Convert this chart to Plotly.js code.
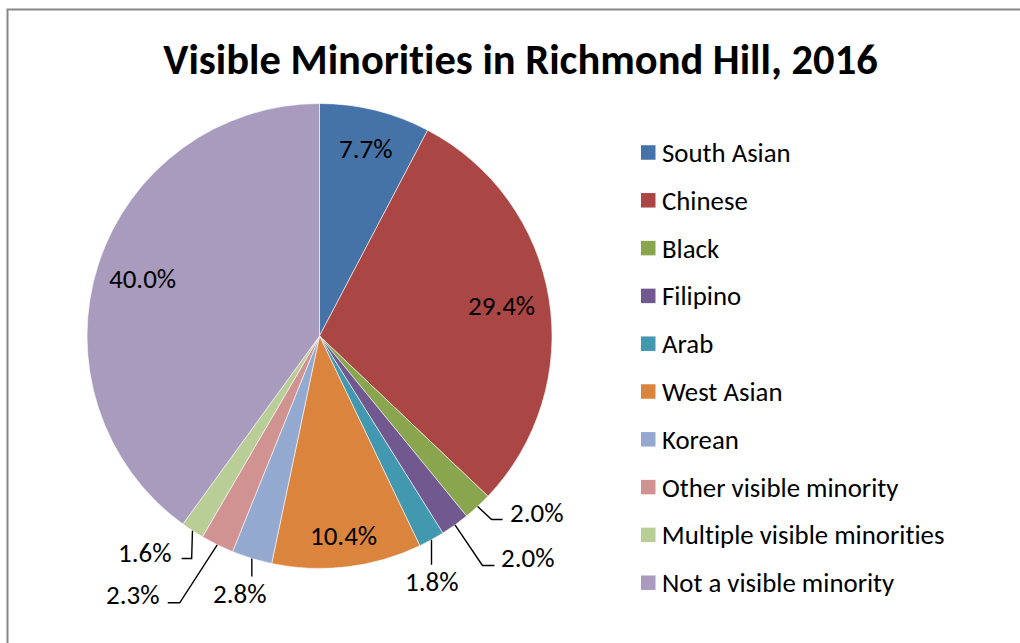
<!DOCTYPE html>
<html>
<head>
<meta charset="utf-8">
<script src="https://cdn.plot.ly/plotly-3.0.1.min.js"></script>
<style>
html,body{margin:0;padding:0;background:#fff;}
#chart{width:1020px;height:643px;}
</style>
</head>
<body>
<div id="chart"></div>
<script>
// ---- data ----
const categories = ['South Asian','Chinese','Black','Filipino','Arab','West Asian','Korean','Other visible minority','Multiple visible minorities','Not a visible minority'];
const shares = [7.7, 29.4, 2.0, 2.0, 1.8, 10.4, 2.8, 2.3, 1.6, 40.0];
const colors = ['#4572A7','#AA4643','#89A54E','#71588F','#4198AF','#DB843D','#93A9CF','#D19392','#B9CD96','#A99BBD'];
const chartTitle = 'Visible Minorities in Richmond Hill, 2016';

// ---- layout / style (pixels) ----
const W = 1020, H = 643;
const pieBox = {x0: 87, x1: 552, y0: 103.5, y1: 568.5};
const FONT = 'Carlito, Lato, "Open Sans", sans-serif';
const LABEL_SIZE = 27, LEGEND_SIZE = 26.8, TITLE_SIZE = 42.5;
// per-slice label style: inside radius factor, or leader geometry (offsets from slice edge point; text offset from leader end)
const labelStyle = [
  {inside: 0.83},
  {inside: 0.795},
  {leader: [[14,13],[25,13]], anchor: 'left', text: [5,-7]},
  {leader: [[27.5,40.5],[39.5,40.5]], anchor: 'left', text: [5,-8]},
  {leader: [[0,25]], anchor: 'center', text: [0,17]},
  {inside: 0.865},
  {leader: [[0,18]], anchor: 'center', text: [-11.5,17]},
  {leader: [[-37.5,58],[-49.5,58]], anchor: 'right', text: [-6,-8]},
  {leader: [[-0.8,27.7],[-10.8,27.7]], anchor: 'right', text: [-8,-6]},
  {inside: 0.80}
];

const X = px => px / W;
const Y = py => 1 - py / H;

const cx = (pieBox.x0 + pieBox.x1) / 2;
const cy = (pieBox.y0 + pieBox.y1) / 2;
const r = Math.min(pieBox.x1 - pieBox.x0, pieBox.y1 - pieBox.y0) / 2;

const total = shares.reduce((a, b) => a + b, 0);
const annotations = [];
const shapes = [];

// chart border (top and left edges visible)
shapes.push({type: 'path', xref: 'paper', yref: 'paper',
  path: `M ${X(7.5)} ${Y(H + 5)} L ${X(7.5)} ${Y(9.5)} L ${X(W + 5)} ${Y(9.5)}`,
  line: {color: '#878787', width: 2}});

let cum = 0;
shares.forEach((v, i) => {
  const mid = (cum + v / 2) / total * 2 * Math.PI;
  cum += v;
  const s = labelStyle[i];
  const txt = v.toFixed(1) + '%';
  if (s.inside) {
    const lx = cx + r * s.inside * Math.sin(mid);
    const ly = cy - r * s.inside * Math.cos(mid);
    annotations.push({x: X(lx), y: Y(ly), xref: 'paper', yref: 'paper', text: txt, showarrow: false,
      xanchor: 'center', yanchor: 'middle', font: {family: FONT, size: LABEL_SIZE, color: '#000'}});
  } else {
    const ex = cx + r * Math.sin(mid);
    const ey = cy - r * Math.cos(mid);
    let path = `M ${X(ex)} ${Y(ey)}`;
    let last = [ex, ey];
    s.leader.forEach(p => { last = [ex + p[0], ey + p[1]]; path += ` L ${X(last[0])} ${Y(last[1])}`; });
    shapes.push({type: 'path', xref: 'paper', yref: 'paper', path: path, line: {color: '#000', width: 1.4}});
    annotations.push({x: X(last[0] + s.text[0]), y: Y(last[1] + s.text[1]), xref: 'paper', yref: 'paper',
      text: txt, showarrow: false, xanchor: s.anchor, yanchor: 'middle',
      font: {family: FONT, size: LABEL_SIZE, color: '#000'}});
  }
});

// custom legend
const legX = 641, legY0 = 152.5, legStep = 47.8, sq = 14.5;
categories.forEach((c, i) => {
  const yc = legY0 + legStep * i;
  shapes.push({type: 'rect', xref: 'paper', yref: 'paper',
    x0: X(legX), x1: X(legX + sq), y0: Y(yc - sq / 2), y1: Y(yc + sq / 2),
    fillcolor: colors[i], line: {width: 0}});
  annotations.push({x: X(legX + 19), y: Y(yc), xref: 'paper', yref: 'paper', text: c, showarrow: false,
    xanchor: 'left', yanchor: 'middle', font: {family: FONT, size: LEGEND_SIZE, color: '#000'}});
});

const trace = {
  type: 'pie',
  labels: categories,
  values: shares,
  sort: false,
  direction: 'clockwise',
  rotation: 0,
  textinfo: 'none',
  marker: {colors: colors, line: {color: 'rgba(255,255,255,0.7)', width: 0.8}},
  domain: {x: [X(pieBox.x0), X(pieBox.x1)], y: [Y(pieBox.y1), Y(pieBox.y0)]},
  showlegend: false,
  hoverinfo: 'label+percent'
};

const layout = {
  width: W, height: H,
  margin: {l: 0, r: 0, t: 0, b: 0},
  paper_bgcolor: '#fff',
  showlegend: false,
  title: {text: '<b>' + chartTitle + '</b>', x: X(520.5), xanchor: 'center', xref: 'paper',
    y: Y(59), yanchor: 'middle', yref: 'paper', font: {family: FONT, size: TITLE_SIZE, color: '#000'}},
  annotations: annotations,
  shapes: shapes
};

Plotly.newPlot('chart', [trace], layout, {displayModeBar: false, staticPlot: true}).then(gd => {
  gd.querySelectorAll('text, tspan').forEach(t => {
    t.style.setProperty('font-variant-ligatures', 'none', 'important');
    t.style.setProperty('font-feature-settings', '"liga" 0, "clig" 0', 'important');
    t.setAttribute('font-variant-ligatures', 'none');
  });
});
</script>
</body>
</html>
